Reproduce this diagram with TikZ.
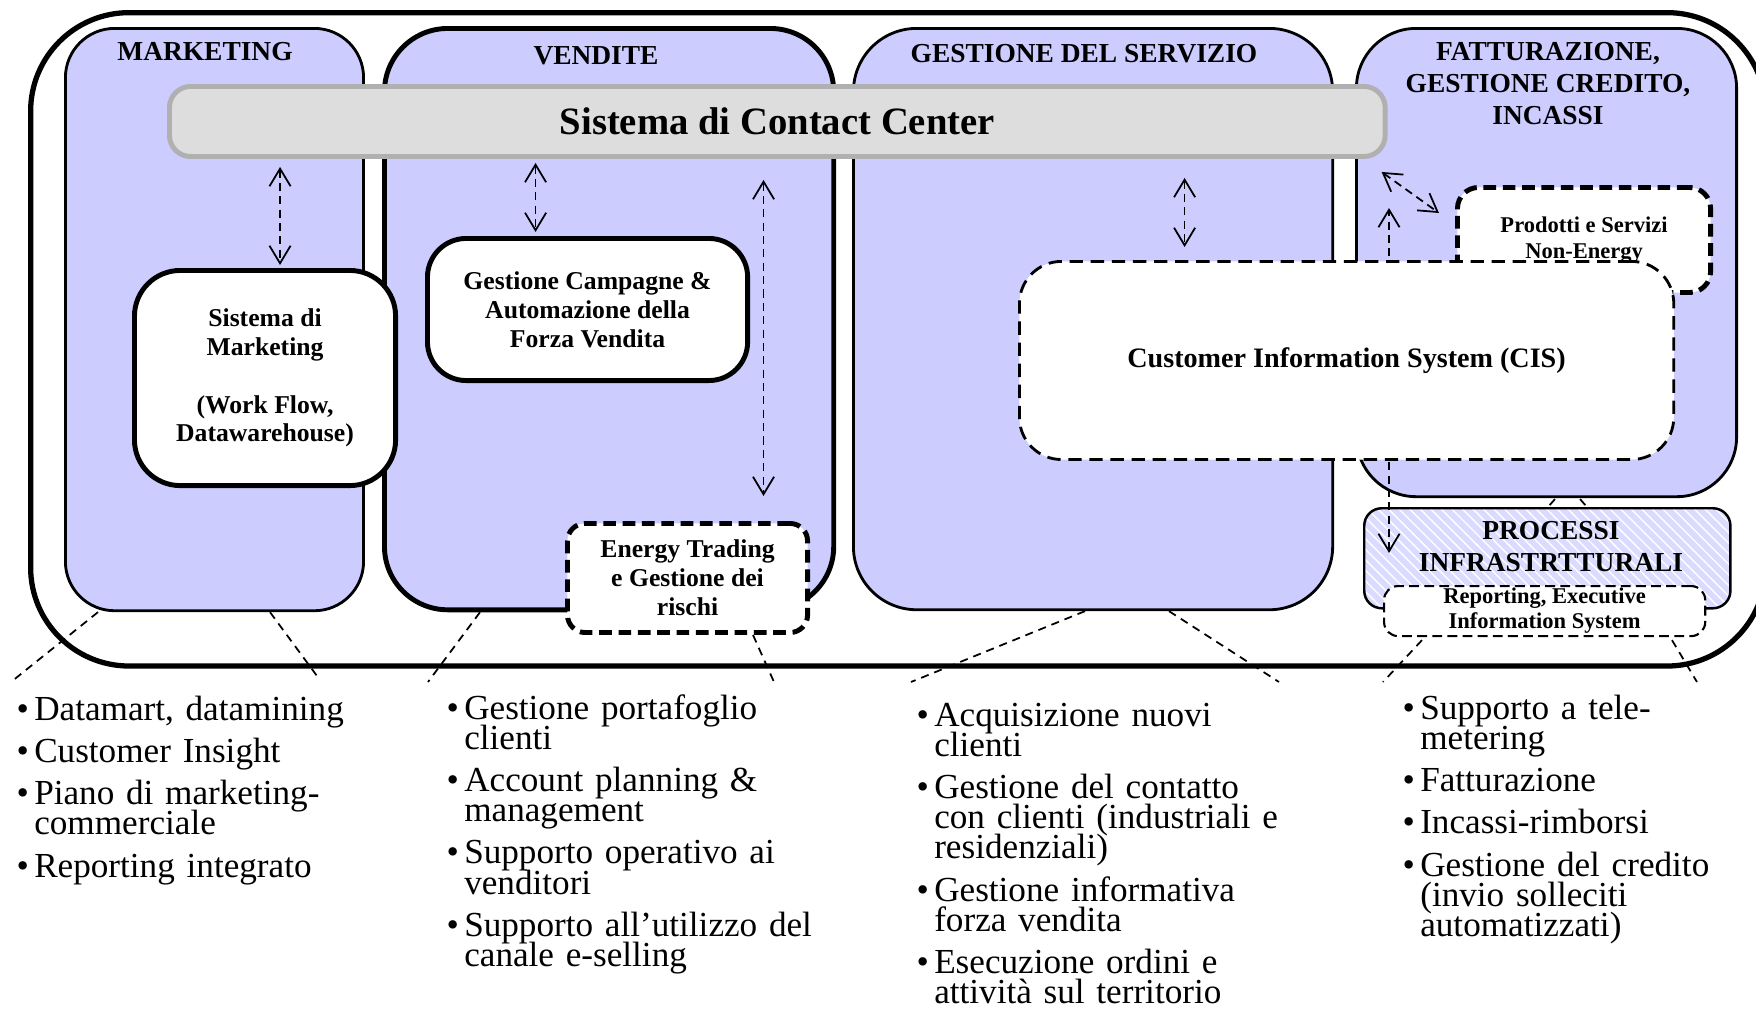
\documentclass[tikz,border=0pt]{standalone}
\usepackage{fontspec}
\setmainfont{Liberation Serif}
\usetikzlibrary{arrows.meta,patterns,calc}
\definecolor{colfill}{RGB}{204,204,255}
\definecolor{barfill}{RGB}{221,221,221}
\definecolor{barline}{RGB}{176,176,176}
\newcommand{\bitem}[1]{\par\hangindent=5pt\hangafter=1\noindent\makebox[5pt][l]{\textbullet}#1}
\newcommand{\bgap}{\par\vspace{3.5pt}}
\tikzset{frame/.style={draw, line width=1.5pt, rounded corners=28pt, anchor=north west, inner sep=0pt},
    colbox/.style={draw, fill=colfill, line width=0.8pt, anchor=north west, inner sep=0pt},
    coltitle/.style={font=\fontsize{7.8}{9.1}\selectfont\bfseries, align=center},
    bar/.style={draw=barline, fill=barfill, line width=1.4pt, rounded corners=6pt, anchor=north west,
        font=\fontsize{11}{13}\selectfont\bfseries},
    sysbox/.style={draw, fill=white, line width=1.4pt, anchor=north west, inner sep=0pt, align=center,
        font=\fontsize{7.3}{8.2}\selectfont\bfseries},
    dashbox/.style={sysbox, dash pattern=on 3.6pt off 1.9pt},
    cisbox/.style={sysbox, line width=0.8pt, dash pattern=on 3.8pt off 2.2pt, rounded corners=12pt,
        font=\fontsize{8}{9}\selectfont\bfseries},
    procbox/.style={draw, line width=0.7pt, preaction={fill=colfill!70}, pattern=north west lines,
        pattern color=white, rounded corners=5pt, anchor=north west, inner sep=0pt},
    repbox/.style={sysbox, line width=0.6pt, dash pattern=on 2.8pt off 1.5pt, rounded corners=4pt,
        font=\fontsize{6.4}{7.1}\selectfont\bfseries},
    dblarr/.style={<->, >={Straight Barb[length=5pt,width=6pt]}, line width=0.5pt, dash pattern=on 2.3pt off 1.5pt},
    callout/.style={line width=0.5pt, dash pattern=on 2.3pt off 1.7pt},
    blist/.style={anchor=base west, text width=4.6cm, align=left, inner sep=0pt,
        font={\fontsize{10}{8.55}\selectfont\lineskiplimit=-5pt}},
    }

\begin{document}
\begin{tikzpicture}[x=0.01cm, y=-0.01cm]
\useasboundingbox (0,0) rectangle (1756,1009);

% cornice e colonne
\node[frame, minimum width=17.34cm, minimum height=6.53cm] (frame) at (28,10) {};
\node[colbox, rounded corners=14pt, minimum width=2.98cm, minimum height=5.82cm] (mkt) at (64,27) {};
\node[colbox, line width=1.4pt, rounded corners=18pt, minimum width=4.49cm, minimum height=5.81cm] (ven) at (382,26) {};
\node[colbox, rounded corners=18pt, minimum width=4.79cm, minimum height=5.81cm] (srv) at (852,27) {};
\node[colbox, rounded corners=17pt, minimum width=3.80cm, minimum height=4.68cm] (fat) at (1355,27) {};

\node[coltitle] (mkttitle) at (205,52) {MARKETING};
\node[coltitle] (ventitle) at (596,56) {VENDITE};
\node[coltitle] (srvtitle) at (1084,54) {GESTIONE DEL SERVIZIO};
\node[coltitle] (fattitle) at (1548,84) {FATTURAZIONE,\\GESTIONE CREDITO,\\INCASSI};

\node[bar, minimum width=12.15cm, minimum height=0.70cm] (bar) at (167,84) {Sistema di Contact Center};

% sistemi
\node[sysbox, rounded corners=13pt, minimum width=2.61cm, minimum height=2.15cm] (mktsys) at (132,268)
    {Sistema di\\Marketing\\[8.2pt](Work Flow,\\Datawarehouse)};
\node[sysbox, rounded corners=11pt, minimum width=3.20cm, minimum height=1.42cm] (camp) at (425,236)
    {Gestione Campagne \&\\Automazione della\\Forza Vendita};
\node[dashbox, rounded corners=5pt, minimum width=2.40cm, minimum height=1.09cm] (energy) at (565,521)
    {Energy Trading\\e Gestione dei\\rischi};
\node[dashbox, rounded corners=6pt, minimum width=2.53cm, minimum height=1.05cm,
    font=\fontsize{6.4}{7.4}\selectfont\bfseries] (prod) at (1455,185) {Prodotti e Servizi\\Non-Energy};

\node[procbox, minimum width=3.66cm, minimum height=1.0cm] (proc) at (1363,507) {};
\node[coltitle] (proctitle) at (1551,547) {PROCESSI\\INFRASTRTTURALI};
\node[repbox, minimum width=3.21cm, minimum height=0.5cm] (rep) at (1383,585) {Reporting, Executive\\Information System};

\draw[dblarr] ($(proc.north west)+(26,46)$) -- ($(proc.north west)+(26,-299)$);

\node[cisbox, minimum width=6.54cm, minimum height=1.98cm] (cis) at (1018,260) {Customer Information System (CIS)};

% frecce
\draw[dblarr] ($(bar.south -| mktsys.north)+(15,8)$) -- ($(mktsys.north)+(15,-3)$);
\draw[dblarr] ($(bar.south -| camp.north)+(-52,4)$) -- ($(camp.north)+(-52,-4)$);
\draw[dblarr] ($(bar.south -| energy.north)+(76,21)$) -- ($(energy.north)+(76,-25)$);
\draw[dblarr] ($(bar.south -| cis.north)+(-162,19)$) -- ($(cis.north)+(-162,-13)$);
\draw[dblarr] ($(bar.south east)+(-6,13)$) -- ($(prod.north west)+(-16,28)$);

% richiami
\coordinate (m1) at (11,682);
\coordinate (m2) at (320,680);
\coordinate (v1) at (428,682);
\coordinate (v2) at (774,682);
\coordinate (s1) at (911,682);
\coordinate (s2) at (1279,682);
\coordinate (f1) at (1383,682);
\coordinate (f2) at (1697,682);
\draw[callout] ($(mkt.south west)+(34,0)$) -- (m1);
\draw[callout] ($(mkt.south west)+(206,0)$) -- (m2);
\draw[callout] ($(ven.south west)+(98,0)$) -- (v1);
\draw[callout] ($(energy.south west)+(188,0)$) -- (v2);
\draw[callout] ($(srv.south west)+(233,0)$) -- (s1);
\draw[callout] ($(srv.south west)+(317,0)$) -- (s2);
\draw[callout] ($(rep.south west)+(39,3)$) -- (f1);
\draw[callout] ($(rep.south west)+(289,3)$) -- (f2);
\draw[callout] ($(fat.south west)+(200,1)$) -- ($(proc.north west)+(185,0)$);
\draw[callout] ($(fat.south west)+(225,1)$) -- ($(proc.north west)+(224,0)$);

% elenchi
\node[blist] (mktlist) at (16,690) {\bitem{Datamart, datamining}\bgap\bitem{Customer Insight}\bgap
    \bitem{Piano di marketing-\newline commerciale}\bgap\bitem{Reporting integrato}\par};
\node[blist] (venlist) at (446,689) {\bitem{Gestione portafoglio\newline clienti}\bgap
    \bitem{Account planning \&\newline management}\bgap\bitem{Supporto operativo ai\newline venditori}\bgap
    \bitem{Supporto all’utilizzo del\newline canale e-selling}\par};
\node[blist] (srvlist) at (916,696) {\bitem{Acquisizione nuovi\newline clienti}\bgap
    \bitem{Gestione del contatto\newline con clienti (industriali e\newline residenziali)}\bgap
    \bitem{Gestione informativa\newline forza vendita}\bgap\bitem{Esecuzione ordini e\newline attività sul territorio}\par};
\node[blist] (fatlist) at (1402,689) {\bitem{Supporto a tele-\newline metering}\bgap\bitem{Fatturazione}\bgap
    \bitem{Incassi-rimborsi}\bgap\bitem{Gestione del credito\newline (invio solleciti\newline automatizzati)}\par};
\end{tikzpicture}
\end{document}
